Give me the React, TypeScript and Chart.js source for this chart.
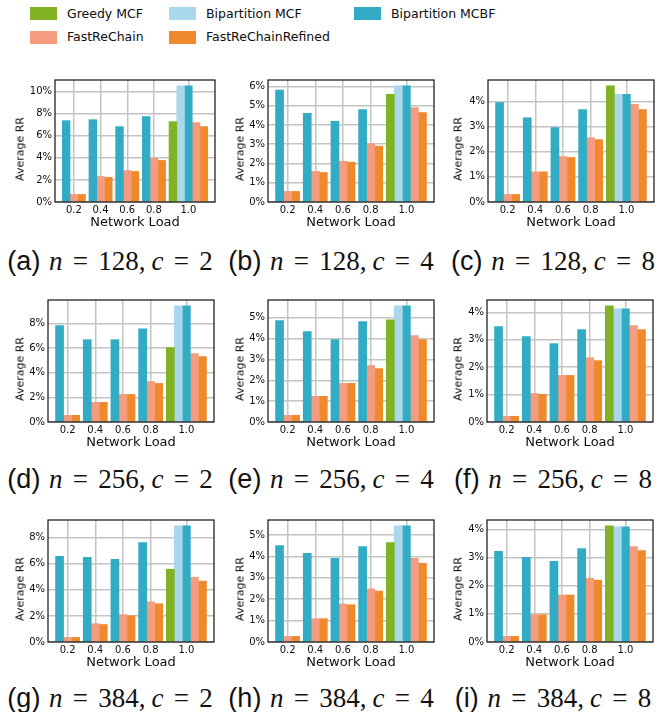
import React, { useEffect, useRef } from 'react';
import { Chart, registerables } from 'chart.js';

Chart.register(...registerables);

// ---------------- data ----------------
const loads = ['0.2', '0.4', '0.6', '0.8', '1.0'];
const seriesNames = ['Greedy MCF', 'Bipartition MCF', 'Bipartition MCBF', 'FastReChain', 'FastReChainRefined'];
const seriesColors = ['#80b223', '#a9d7eb', '#32acc4', '#f59c7f', '#ee8a2b'];

const panelLetters = ['a', 'b', 'c', 'd', 'e', 'f', 'g', 'h', 'i'];
const panelN = [128, 128, 128, 256, 256, 256, 384, 384, 384];
const panelC = [2, 4, 8, 2, 4, 8, 2, 4, 8];
const yStep = [2, 1, 1, 2, 1, 1, 2, 1, 1];

const greedyMCF = [
  [null, null, null, null, 7.29],
  [null, null, null, null, 5.59],
  [null, null, null, null, 4.62],
  [null, null, null, null, 6.04],
  [null, null, null, null, 4.9],
  [null, null, null, null, 4.24],
  [null, null, null, null, 5.58],
  [null, null, null, null, 4.65],
  [null, null, null, null, 4.13],
];
const bipartitionMCF = [
  [null, null, null, null, 10.54],
  [null, null, null, null, 6.03],
  [null, null, null, null, 4.28],
  [null, null, null, null, 9.43],
  [null, null, null, null, 5.57],
  [null, null, null, null, 4.13],
  [null, null, null, null, 8.91],
  [null, null, null, null, 5.43],
  [null, null, null, null, 4.09],
];
const bipartitionMCBF = [
  [7.38, 7.47, 6.84, 7.74, 10.54],
  [5.81, 4.6, 4.19, 4.79, 6.03],
  [3.95, 3.35, 2.96, 3.67, 4.28],
  [7.82, 6.68, 6.68, 7.57, 9.43],
  [4.86, 4.33, 3.95, 4.81, 5.57],
  [3.48, 3.12, 2.86, 3.37, 4.13],
  [6.57, 6.49, 6.34, 7.63, 8.91],
  [4.51, 4.14, 3.91, 4.46, 5.43],
  [3.22, 3.01, 2.87, 3.32, 4.09],
];
const fastReChain = [
  [0.69, 2.32, 2.86, 3.98, 7.2],
  [0.55, 1.59, 2.12, 3.03, 4.9],
  [0.3, 1.2, 1.81, 2.56, 3.88],
  [0.54, 1.59, 2.24, 3.29, 5.55],
  [0.32, 1.23, 1.85, 2.71, 4.14],
  [0.21, 1.04, 1.7, 2.35, 3.52],
  [0.35, 1.41, 2.1, 3.08, 4.97],
  [0.26, 1.09, 1.78, 2.48, 3.91],
  [0.2, 0.97, 1.67, 2.27, 3.39],
];
const fastReChainRefined = [
  [0.69, 2.23, 2.77, 3.77, 6.84],
  [0.55, 1.53, 2.07, 2.9, 4.64],
  [0.3, 1.2, 1.77, 2.48, 3.67],
  [0.54, 1.59, 2.24, 3.13, 5.31],
  [0.32, 1.23, 1.85, 2.56, 3.95],
  [0.21, 1.01, 1.7, 2.24, 3.37],
  [0.35, 1.34, 2.02, 2.93, 4.67],
  [0.26, 1.09, 1.74, 2.38, 3.68],
  [0.2, 0.97, 1.67, 2.2, 3.25],
];
const allSeries = [greedyMCF, bipartitionMCF, bipartitionMCBF, fastReChain, fastReChainRefined];

// ---------------- layout ----------------
const plotLeft = [55, 268, 488, 48, 268, 487, 48, 268, 487];
const plotRight = [215, 434, 654, 214, 434, 653, 214, 434, 653];
const rowTop = [80, 299.5, 519.5];
const rowBottom = [202, 422, 642];
const yTitleX = [20, 240, 458];
const captionX = [110, 331, 553];
const captionY = [261, 479, 698];
const BAR_W = 0.29;
const TEXT = '#0d0d0d';
const GRID = '#c4c4c4';

const legendPatchX = [30, 169, 354];
const legendRowY = [13.5, 37];

const framePlugin = {
  id: 'frame',
  afterDraw(chart: any) {
    const { ctx, chartArea: a } = chart;
    ctx.save();
    ctx.strokeStyle = '#111';
    ctx.lineWidth = 1.2;
    ctx.strokeRect(a.left, a.top, a.right - a.left, a.bottom - a.top);
    ctx.restore();
  },
};

function Panel({ idx }: { idx: number }) {
  const ref = useRef<HTMLCanvasElement>(null);
  const row = Math.floor(idx / 3);
  const col = idx % 3;
  const L = 40, R = 8, T = 10, B = 32;
  const pTop = rowTop[row];
  const pBottom = rowBottom[row];
  const cLeft = plotLeft[idx] - L;
  const cTop = pTop - T;
  const cW = plotRight[idx] - plotLeft[idx] + L + R;
  const cH = pBottom - pTop + T + B;

  useEffect(() => {
    const counts = loads.map((_, g) => allSeries.filter((s) => s[idx][g] != null).length);
    const centers = counts.map((c, g) => g + (c * BAR_W) / 2);
    const datasets = allSeries.map((ser, s) => {
      const data: any[] = [];
      loads.forEach((_, g) => {
        const v = ser[idx][g];
        if (v == null) return;
        let slot = 0;
        for (let k = 0; k < s; k++) if (allSeries[k][idx][g] != null) slot++;
        data.push({ x: g + (slot + 0.5) * BAR_W, y: v });
      });
      return {
        label: seriesNames[s],
        data,
        backgroundColor: seriesColors[s],
        borderWidth: 0,
        grouped: false,
        categoryPercentage: 1,
        barPercentage: 1,
      };
    });
    let vmax = 0;
    allSeries.forEach((ser) => ser[idx].forEach((v) => { if (v != null && v > vmax) vmax = v; }));
    const span = loads.length - 1 + 5 * BAR_W;
    const margin = 0.05 * span;
    const chart = new Chart(ref.current as HTMLCanvasElement, {
      type: 'bar',
      data: { datasets },
      plugins: [framePlugin],
      options: {
        animation: false,
        responsive: false,
        devicePixelRatio: 1,
        layout: { padding: { top: T, right: R, left: 0, bottom: 0 } },
        plugins: { legend: { display: false }, tooltip: { enabled: false } },
        scales: {
          x: {
            type: 'linear',
            offset: false,
            min: -margin,
            max: span + margin,
            afterBuildTicks: (scale: any) => {
              scale.ticks = centers.map((v) => ({ value: v }));
            },
            afterFit: (scale: any) => {
              scale.height = B;
            },
            grid: { color: GRID, lineWidth: 1.5, drawTicks: false, offset: false },
            border: { display: false },
            ticks: {
              autoSkip: false,
              maxRotation: 0,
              padding: 2,
              color: TEXT,
              font: { family: 'DejaVu Sans', size: 10 },
              callback: (_v: any, i: number) => loads[i],
            },
            title: {
              display: true,
              text: 'Network Load',
              color: TEXT,
              font: { family: 'DejaVu Sans', size: 13 },
              padding: { top: 0, bottom: 4 },
            },
          },
          y: {
            min: 0,
            max: vmax * 1.05,
            afterFit: (scale: any) => {
              scale.width = L;
            },
            grid: { color: GRID, lineWidth: 1.5, drawTicks: false },
            border: { display: false },
            ticks: {
              stepSize: yStep[idx],
              includeBounds: false,
              padding: 3,
              color: TEXT,
              font: { family: 'DejaVu Sans', size: 10 },
              callback: (v: any) => Math.round(v) + '%',
            },
          },
        },
      },
    } as any);
    return () => chart.destroy();
  }, [idx]);

  return (
    <>
      <canvas
        ref={ref}
        width={cW}
        height={cH}
        style={{ position: 'absolute', left: cLeft, top: cTop, width: cW, height: cH }}
      />
      <div
        style={{
          position: 'absolute',
          left: yTitleX[col],
          top: (pTop + pBottom) / 2 + 8,
          transform: 'translate(-50%, -50%) rotate(-90deg)',
          whiteSpace: 'nowrap',
          fontFamily: 'DejaVu Sans',
          fontSize: 11,
          color: TEXT,
          lineHeight: '13px',
        }}
      >
        Average RR
      </div>
      <div
        style={{
          position: 'absolute',
          left: captionX[col] - 130,
          width: 260,
          top: captionY[row] - 18,
          height: 36,
          lineHeight: '36px',
          textAlign: 'center',
          whiteSpace: 'nowrap',
          fontSize: 27,
          color: '#111',
        }}
      >
        <span style={{ fontFamily: 'Liberation Sans' }}>({panelLetters[idx]})</span>
        <span style={{ fontFamily: 'Liberation Serif' }}>
          <i style={{ marginLeft: '0.32em' }}>n</i>
          <span style={{ margin: '0 0.38em' }}>=</span>
          {panelN[idx]},<i style={{ marginLeft: '0.22em' }}>c</i>
          <span style={{ margin: '0 0.38em' }}>=</span>
          {panelC[idx]}
        </span>
      </div>
    </>
  );
}

export default function App() {
  const legendOrder = [[0, 1, 2], [3, 4]];
  return (
    <div
      style={{
        position: 'absolute',
        left: 0,
        top: 0,
        width: 662,
        height: 712,
        background: '#fff',
        overflow: 'hidden',
      }}
    >
      {legendOrder.map((rowItems, r) =>
        rowItems.map((s, k) => (
          <div key={s}>
            <div
              style={{
                position: 'absolute',
                left: legendPatchX[k],
                top: legendRowY[r] - 6.5,
                width: 27,
                height: 13,
                background: seriesColors[s],
              }}
            />
            <div
              style={{
                position: 'absolute',
                left: legendPatchX[k] + 37,
                top: legendRowY[r] - 9,
                height: 18,
                lineHeight: '18px',
                fontFamily: 'DejaVu Sans',
                fontSize: 12.5,
                color: TEXT,
                whiteSpace: 'nowrap',
              }}
            >
              {seriesNames[s]}
            </div>
          </div>
        ))
      )}
      {panelLetters.map((_, i) => (
        <Panel key={i} idx={i} />
      ))}
    </div>
  );
}
